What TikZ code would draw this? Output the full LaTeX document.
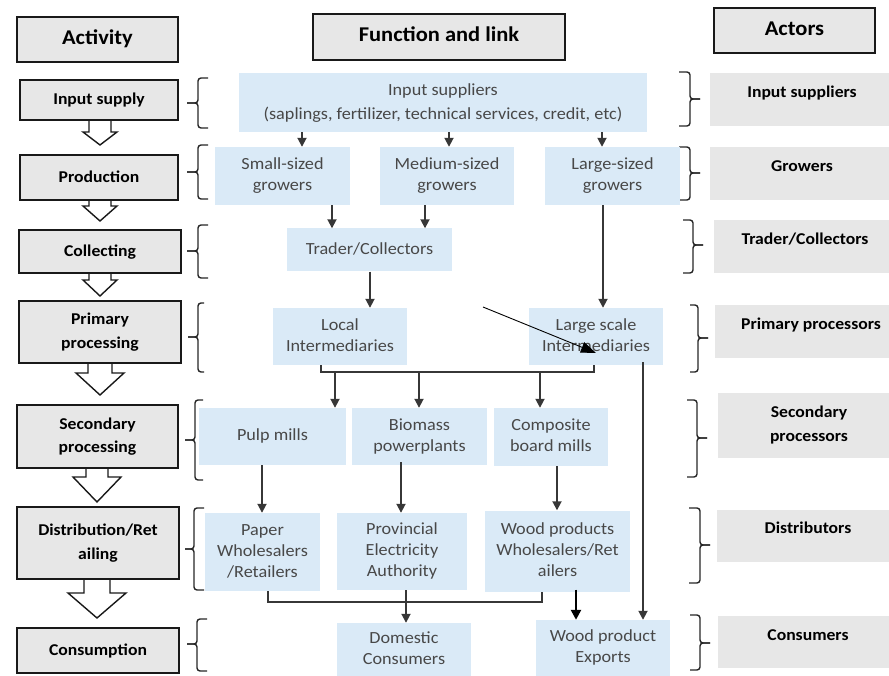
\documentclass[tikz,border=0pt]{standalone}
\usepackage{fontspec}
\setmainfont{Carlito}
\usepackage{graphicx}
\usetikzlibrary{arrows.meta}
\definecolor{bfill}{RGB}{218,234,247}
\definecolor{gfill}{RGB}{231,231,231}
\definecolor{txtg}{RGB}{72,72,72}
\definecolor{arrc}{RGB}{55,55,55}
\newcommand\tx[1]{\scalebox{1.07}[1]{\begin{tabular}{@{}c@{}}#1\end{tabular}}}
\newcommand\mybrace[6]{% xe xv xt yt ym yb
  \draw[bracestyle] (#1,#4) -- (#2,#4) -- (#2,#5) -- (#3,#5);
  \draw[bracestyle] (#3,#5) -- (#2,#5) -- (#2,#6) -- (#1,#6);}
\newcommand\blockarr[6]{% cx ytop yhead ytip shafthalf headhalf
  \draw[blockarrow] (#1-#5,#2) -- (#1-#5,#3) -- (#1-#6,#3) -- (#1,#4) -- (#1+#6,#3) -- (#1+#5,#3) -- (#1+#5,#2);}
\begin{document}
\begin{tikzpicture}[x=1pt,y=-1pt,
  wh/.style 2 args={minimum width=#1pt, minimum height=#2pt},
  bluebox/.style={fill=bfill, inner sep=0pt, text=txtg, font=\fontsize{17}{21}\selectfont},
  actbox/.style={fill=gfill, draw=black!90, line width=1.6pt, inner sep=0pt, font=\bfseries\fontsize{16.5}{23.5}\selectfont},
  actorbox/.style={fill=gfill, inner sep=0pt},
  actortext/.style={font=\bfseries\fontsize{16.5}{24}\selectfont, inner sep=0pt},
  headbox/.style={fill=gfill, draw=black!90, line width=1.6pt, inner sep=0pt, font=\bfseries\fontsize{21}{24}\selectfont},
  blockarrow/.style={draw=black!90, fill=white, line width=1.4pt, line join=miter},
  conn/.style={draw=arrc, line width=1.8pt, -{Triangle[width=9pt,length=9pt]}},
  bus/.style={draw=arrc, line width=1.4pt},
  bracestyle/.style={draw=black!85, line width=1.4pt, rounded corners=3pt},
]
\useasboundingbox (0,0) rectangle (889,676);

% block arrows of the activity column
\blockarr{100}{119}{132}{145}{11}{17}
\blockarr{100}{199}{206}{221}{11}{17}
\blockarr{100}{272}{280}{296}{11}{17}
\blockarr{100}{362}{373}{395}{12}{24}
\blockarr{97}{467}{477}{502}{11}{24}
\blockarr{97}{578}{593}{618}{13}{29}

% headings
\node[headbox, wh={161}{45}] (hact) at (97.5,39.5) {\tx{Activity}};
\node[headbox, wh={252}{46}] (hfun) at (439,37) {\tx{Function and link}};
\node[headbox, wh={161}{45}] (hactor) at (794.5,30.5) {\tx{Actors}};

% activity boxes
\node[actbox, wh={158}{40}] (is) at (99,100) {\tx{Input supply}};
\node[actbox, wh={158}{45}] (pr) at (99,177.5) {\tx{Production}};
\node[actbox, wh={162}{43}] (co) at (100,251.5) {\tx{Collecting}};
\node[actbox, wh={162}{62}] (pp) at (100,332) {\tx{Primary\\processing}};
\node[actbox, wh={161}{63}] (sp) at (97.5,436.5) {\tx{Secondary\\processing}};
\node[actbox, wh={162}{72}] (dr) at (98,543) {\tx{Distribution/Ret\\ailing}};
\node[actbox, wh={162}{45}] (cs) at (98,650.5) {\tx{Consumption}};

% left braces
\mybrace{208}{198}{187}{78}{103}{128}
\mybrace{208}{198}{187}{145}{172}{199}
\mybrace{208}{198}{187}{225}{251}{278}
\mybrace{204}{198}{188}{303}{337}{372}
\mybrace{203}{195}{185}{400}{440}{480}
\mybrace{204}{194}{185}{508}{549}{590}
\mybrace{207}{197}{187}{619}{644}{671}

% right braces
\mybrace{679}{690}{700}{72}{99}{126}
\mybrace{679}{690}{700}{147}{173}{200}
\mybrace{683}{693}{703}{220}{245}{273}
\mybrace{690}{698}{708}{305}{338}{372}
\mybrace{687}{697}{707}{400}{438}{477}
\mybrace{689}{700}{710}{508}{545}{583}
\mybrace{690}{700}{710}{615}{643}{670}

% actor boxes
\node[actorbox, wh={179}{53}] (a1) at (799.5,99.5) {};
\node[actorbox, wh={179}{53}] (a2) at (799.5,173.5) {};
\node[actorbox, wh={175}{53}] (a3) at (801.5,246.5) {};
\node[actorbox, wh={174}{53}] (a4) at (802,331.5) {};
\node[actorbox, wh={171}{65}] (a5) at (803.5,425.5) {};
\node[actorbox, wh={172}{52}] (a6) at (803,536) {};
\node[actorbox, wh={171}{52}] (a7) at (803.5,642) {};
\node[actortext] (t1) at (802,93) {\tx{Input suppliers}};
\node[actortext] (t2) at (802,167) {\tx{Growers}};
\node[actortext] (t3) at (805,240) {\tx{Trader/Collectors}};
\node[actortext] (t4) at (811,325) {\tx{Primary processors}};
\node[actortext] (t5) at (809,425) {\tx{Secondary\\processors}};
\node[actortext] (t6) at (808,529) {\tx{Distributors}};
\node[actortext] (t7) at (808,636) {\tx{Consumers}};

% function boxes
\node[bluebox, wh={408}{59}] (ins) at (443,102.5) {\fontsize{17}{24}\selectfont\tx{Input suppliers\\(saplings, fertilizer, technical services, credit, etc)}};
\node[bluebox, wh={135}{58}] (sg) at (282.5,176) {\tx{Small-sized\\growers}};
\node[bluebox, wh={134}{58}] (mg) at (447,176) {\tx{Medium-sized\\growers}};
\node[bluebox, wh={135}{58}] (lg) at (612.5,176) {\tx{Large-sized\\growers}};
\node[bluebox, wh={165}{43}] (tc) at (369.5,250) {\tx{Trader/Collectors}};
\node[bluebox, wh={134}{57}] (li) at (340,336.5) {\tx{Local\\Intermediaries}};
\node[bluebox, wh={134}{57}] (ls) at (596,336.5) {\tx{Large scale\\Intermediaries}};
\node[bluebox, wh={147}{57}] (pm) at (272.5,436.5) {\tx{Pulp mills\\ }};
\node[bluebox, wh={135}{57}] (bp) at (419.5,436.5) {\tx{Biomass\\powerplants}};
\node[bluebox, wh={114}{58}] (cb) at (551,437) {\tx{Composite\\board mills}};
\node[bluebox, wh={115}{78}] (pw) at (262.5,552) {\tx{Paper\\Wholesalers\\/Retailers}};
\node[bluebox, wh={130}{77}] (pe) at (402,551.5) {\tx{Provincial\\Electricity\\Authority}};
\node[bluebox, wh={145}{81}] (wp) at (557.5,551) {\tx{Wood products\\Wholesalers/Ret\\ailers}};
\node[bluebox, wh={134}{53}] (dc) at (404,649.5) {\tx{Domestic\\Consumers}};
\node[bluebox, wh={134}{56}] (we) at (603,648) {\tx{Wood product\\Exports}};

% connectors
\draw[conn] (ins.south -| 302,0) -- (sg.north -| 302,0);
\draw[conn] (ins.south -| 449,0) -- (mg.north -| 449,0);
\draw[conn] (ins.south -| 602,0) -- (lg.north -| 602,0);
\draw[conn] (sg.south -| 332,0) -- (tc.north -| 332,0);
\draw[conn] (mg.south -| 425,0) -- (tc.north -| 425,0);
\draw[conn] (tc.south -| 370,0) -- (li.north -| 370,0);
\draw[conn] (lg.south -| 603,0) -- (ls.north -| 603,0);

\coordinate (dstart) at (483,307);
\coordinate (dend) at (596,353);
\draw[draw=black, line width=0.9pt, -{Triangle[width=11pt,length=15pt]}] (dstart) -- (dend);

\coordinate (busL) at (321,372);
\coordinate (busR) at (594,372);
\draw[bus] (li.south -| busL) -- (busL) -- (busR) -- (ls.south -| busR);
\draw[conn] (335,372) -- (pm.north -| 335,0);
\draw[conn] (419,372) -- (bp.north -| 419,0);
\draw[conn] (540,372) -- (cb.north -| 540,0);

\draw[conn] ([yshift=3pt]ls.south -| 643,0) -- (we.north -| 643,0);

\draw[conn] (pm.south -| 262,0) -- (pw.north -| 262,0);
\draw[conn] ([yshift=3pt]bp.south -| 401,0) -- (pe.north -| 401,0);
\draw[conn] (cb.south -| 557,0) -- (wp.north -| 557,0);

\coordinate (bus2L) at (268,602);
\coordinate (bus2R) at (542,602);
\draw[bus] (pw.south -| bus2L) -- (bus2L) -- (bus2R) -- (wp.south -| bus2R);
\draw[conn] (pe.south -| 406,0) -- (dc.north -| 406,0);
\draw[draw=black, line width=2.4pt, -{Triangle[width=10pt,length=10pt]}] ([yshift=2pt]wp.south -| 576,0) -- (we.north -| 576,0);
\end{tikzpicture}
\end{document}
